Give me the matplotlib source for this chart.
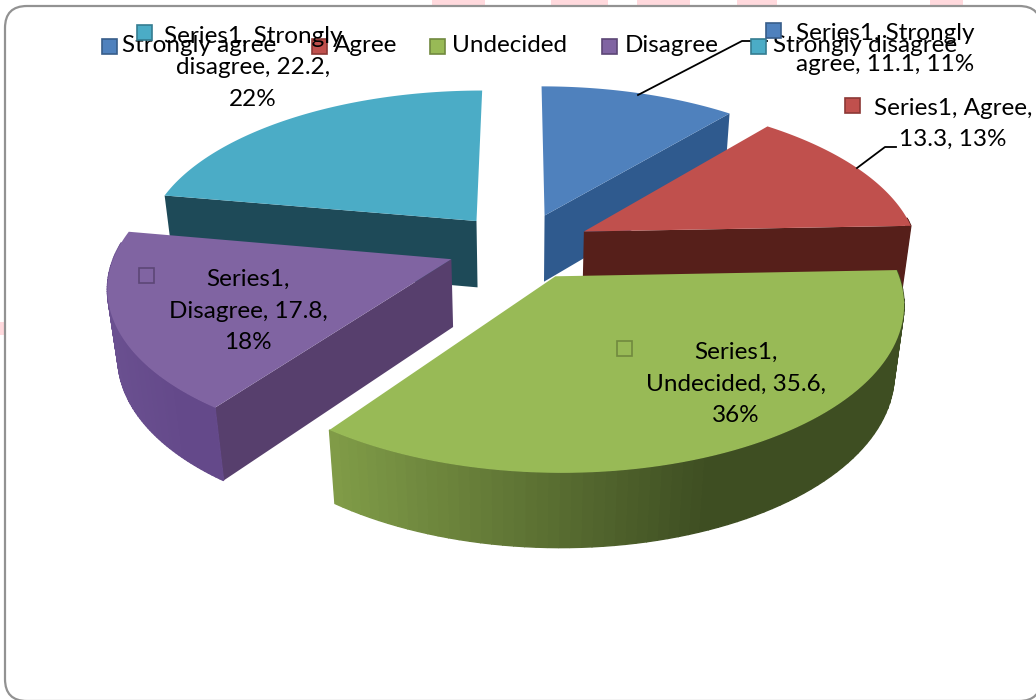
import numpy as np
import matplotlib

matplotlib.use("Agg")
import matplotlib.pyplot as plt
from matplotlib.patches import FancyBboxPatch, Polygon, Rectangle

categories = ["Strongly agree", "Agree", "Undecided", "Disagree", "Strongly disagree"]
values = [11.1, 13.3, 35.6, 17.8, 22.2]
percents = [11, 13, 36, 18, 22]

top_colors = ["#4F81BD", "#C0504D", "#98BA56", "#8064A2", "#4BACC6"]
face_colors = ["#2F5A8E", "#561F1A", "#5A7032", "#573F6D", "#1E4A58"]
rim_left = ["#3F6CA0", "#561F1A", "#819D48", "#6A5090", "#3C8CA2"]
rim_right = ["#3F6CA0", "#561F1A", "#3E4E22", "#64498A", "#3C8CA2"]
key_edges = ["#385D8A", "#8C3836", "#71893F", "#5C4776", "#357D91"]

# projection of the exploded pie, picture pixels
CX, CY = 521, 246
SX, SY = 334, 157
PERSP = 0.15
EXPLODE = [0.2126, 0.2126, 0.2126, 0.222, 0.2126]
THICK = 69
THICK_W = 0.025

plt.rcParams["font.family"] = ["Lato", "DejaVu Sans"]


def project(x, y, low=False):
    w = 1 + PERSP * y
    if low:
        w = w + THICK_W
        return CX + SX * x / w, CY + (THICK - SY * y) / w
    return CX + SX * x / w, CY - SY * y / w


def mix(c1, c2, t):
    a = np.array(matplotlib.colors.to_rgb(c1))
    b = np.array(matplotlib.colors.to_rgb(c2))
    return a + (b - a) * t


def draw_wedge(ax, start, end, i, z):
    mid = (start + end) / 2
    dx, dy = EXPLODE[i] * np.sin(mid), EXPLODE[i] * np.cos(mid)
    t = np.linspace(start, end, 80)
    xs = dx + np.sin(t)
    ys = dy + np.cos(t)
    top = np.array(project(xs, ys)).T
    low = np.array(project(xs, ys, low=True)).T
    apex = np.array(project(dx, dy))
    apex_low = np.array(project(dx, dy, low=True))

    # radial faces, only the ones turned to the viewer
    if np.sin(start) < -0.01:
        ax.add_patch(Polygon([apex, top[0], low[0], apex_low], fc=face_colors[i], ec="none", zorder=z))
    if np.sin(end) > 0.01:
        ax.add_patch(Polygon([apex, top[-1], low[-1], apex_low], fc=face_colors[i], ec="none", zorder=z))
    # outer rim
    for k in range(len(t) - 1):
        if np.cos(t[k]) > 0.1:
            continue
        f = np.clip((top[k][0] - top[:, 0].min()) / (top[:, 0].max() - top[:, 0].min()) * 1.5, 0, 1)
        c = mix(rim_left[i], rim_right[i], f)
        ax.add_patch(Polygon([top[k], top[k + 1], low[k + 1], low[k]], fc=c, ec=c, lw=1.0, zorder=z))
    ax.add_patch(Polygon(np.vstack([apex, top]), fc=top_colors[i], ec="none", zorder=z + 0.5))


fig = plt.figure(figsize=(10.36, 7), dpi=100)
ax = fig.add_axes([0, 0, 1, 1])
ax.set_xlim(0, 1036)
ax.set_ylim(700, 0)
ax.axis("off")

# bits of the page watermark showing around the chart frame
for x0, x1 in [(432, 485), (551, 608), (637, 690), (737, 777), (930, 963)]:
    ax.add_patch(Rectangle((x0, 0), x1 - x0, 7, fc="#FFD9DD", ec="none", zorder=0))
ax.add_patch(Rectangle((0, 322), 5, 13, fc="#FFD9DD", ec="none", zorder=0))

ax.add_patch(
    FancyBboxPatch((5, 6), 1036, 695, boxstyle="round,pad=0,rounding_size=22", fc="white", ec="#929292", lw=1.6, zorder=1)
)

edges = np.cumsum([0] + values) / sum(values) * 2 * np.pi
draw_order = [0, 4, 1, 3, 2]
for n, i in enumerate(draw_order):
    draw_wedge(ax, edges[i], edges[i + 1], i, n + 2)

# leader lines
ax.plot([638, 742, 767], [95, 41, 41], color="black", lw=1.3, zorder=12)
ax.plot([857, 885, 896], [168, 147, 147], color="black", lw=1.3, zorder=12)

# legend row
legend_keys = [102, 312, 430, 602, 751]
legend_text = [122, 334, 452, 625, 773]
for i, name in enumerate(categories):
    ax.add_patch(Rectangle((legend_keys[i], 39), 15, 15, fc=top_colors[i], ec=key_edges[i], lw=1.2, zorder=13))
    ax.text(legend_text[i], 46, name, fontsize=17.5, va="center", ha="left", zorder=14)

# data labels
label_text = [
    "Series1, Strongly\nagree, {}, {}%",
    "Series1, Agree,\n{}, {}%",
    "Series1,\nUndecided, {},\n{}%",
    "Series1,\nDisagree, {},\n{}%",
    "Series1, Strongly\ndisagree, {},\n{}%",
]
label_x = [885, 953, 736, 248, 253]
label_y = [49, 124, 384, 311, 68]
key_x = [766, 845, 617, 139, 137]
key_y = [23, 98, 341, 268, 25]
for i in range(len(values)):
    ax.text(
        label_x[i], label_y[i], label_text[i].format(values[i], percents[i]),
        fontsize=17.5, ha="center", va="center", linespacing=1.6, zorder=15,
    )
    filled = i in (0, 1, 4)
    ax.add_patch(
        Rectangle(
            (key_x[i], key_y[i]), 15, 15,
            fc=top_colors[i] if filled else "none", ec=key_edges[i], lw=1.2, zorder=15,
        )
    )

fig.savefig("out.png", dpi=100)
